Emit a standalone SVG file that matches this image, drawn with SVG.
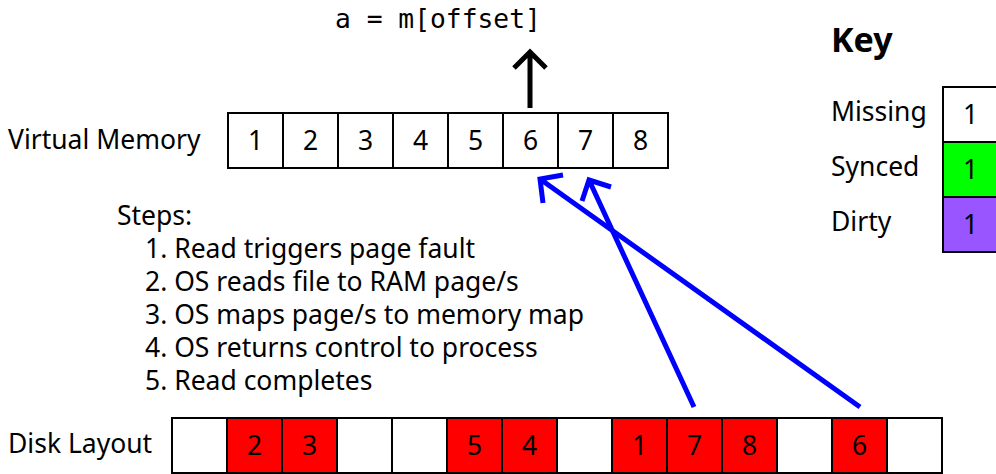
<svg xmlns="http://www.w3.org/2000/svg" width="996" height="474" viewBox="0 0 996 474">
<style>
text{font-family:"Noto Sans","Open Sans",sans-serif;font-size:26.5px;fill:#000}
.c{text-anchor:middle}
.cell{stroke:#000;stroke-width:2}
.w{fill:#fff}.r{fill:#ff0000}.g{fill:#00ff00}.p{fill:#9955ff}
.code{font-family:"DejaVu Sans Mono",monospace;font-size:26.3px}
.blue{stroke:#0000ff;stroke-width:5;fill:none}
.blk{stroke:#000;stroke-width:5;fill:none}
</style>
<rect width="996" height="474" fill="#fff"/>
<text class="code" x="335" y="28">a = m[offset]</text>
<g id="key">
<text x="831" y="52" style="font-weight:bold;font-size:34px">Key</text>
<text x="831" y="121">Missing</text>
<text x="831" y="176">Synced</text>
<text x="831" y="231">Dirty</text>
<rect class="cell w" x="943" y="87" width="55" height="55"/>
<rect class="cell g" x="943" y="142" width="55" height="55"/>
<rect class="cell p" x="943" y="197" width="55" height="55"/>
<text class="c" x="970.5" y="124">1</text>
<text class="c" x="970.5" y="179">1</text>
<text class="c" x="970.5" y="234">1</text>
</g>
<g id="virtual-memory">
<text x="8" y="149">Virtual Memory</text>
<rect class="cell w" x="228" y="113" width="55" height="55"/>
<rect class="cell w" x="283" y="113" width="55" height="55"/>
<rect class="cell w" x="338" y="113" width="55" height="55"/>
<rect class="cell w" x="393" y="113" width="55" height="55"/>
<rect class="cell w" x="448" y="113" width="55" height="55"/>
<rect class="cell w" x="503" y="113" width="55" height="55"/>
<rect class="cell w" x="558" y="113" width="55" height="55"/>
<rect class="cell w" x="613" y="113" width="55" height="55"/>
<text class="c" x="255.5" y="150">1</text>
<text class="c" x="310.5" y="150">2</text>
<text class="c" x="365.5" y="150">3</text>
<text class="c" x="420.5" y="150">4</text>
<text class="c" x="475.5" y="150">5</text>
<text class="c" x="530.5" y="150">6</text>
<text class="c" x="585.5" y="150">7</text>
<text class="c" x="640.5" y="150">8</text>
</g>
<g id="steps">
<text x="117" y="225">Steps:</text>
<text x="145" y="258">1. Read triggers page fault</text>
<text x="145" y="291">2. OS reads file to RAM page/s</text>
<text x="145" y="324">3. OS maps page/s to memory map</text>
<text x="145" y="357">4. OS returns control to process</text>
<text x="145" y="390">5. Read completes</text>
</g>
<g id="disk-layout">
<text x="8" y="453">Disk Layout</text>
<rect class="cell w" x="172" y="418" width="55" height="55"/>
<rect class="cell r" x="227" y="418" width="55" height="55"/>
<rect class="cell r" x="282" y="418" width="55" height="55"/>
<rect class="cell w" x="337" y="418" width="55" height="55"/>
<rect class="cell w" x="392" y="418" width="55" height="55"/>
<rect class="cell r" x="447" y="418" width="55" height="55"/>
<rect class="cell r" x="502" y="418" width="55" height="55"/>
<rect class="cell w" x="557" y="418" width="55" height="55"/>
<rect class="cell r" x="612" y="418" width="55" height="55"/>
<rect class="cell r" x="667" y="418" width="55" height="55"/>
<rect class="cell r" x="722" y="418" width="55" height="55"/>
<rect class="cell w" x="777" y="418" width="55" height="55"/>
<rect class="cell r" x="832" y="418" width="55" height="55"/>
<rect class="cell w" x="887" y="418" width="55" height="55"/>
<text class="c" x="254.5" y="455">2</text>
<text class="c" x="309.5" y="455">3</text>
<text class="c" x="474.5" y="455">5</text>
<text class="c" x="529.5" y="455">4</text>
<text class="c" x="639.5" y="455">1</text>
<text class="c" x="694.5" y="455">7</text>
<text class="c" x="749.5" y="455">8</text>
<text class="c" x="859.5" y="455">6</text>
</g>
<g id="connectors">
<path class="blk" d="M530 108 V53 M514 68 L530 52 L546 68"/>
<path class="blue" d="M860 407 L540 179 M563 175 L540 179 L543 203"/>
<path class="blue" d="M694 407 L589 180 M611 187 L589 180 L582 201"/>
</g>
</svg>
